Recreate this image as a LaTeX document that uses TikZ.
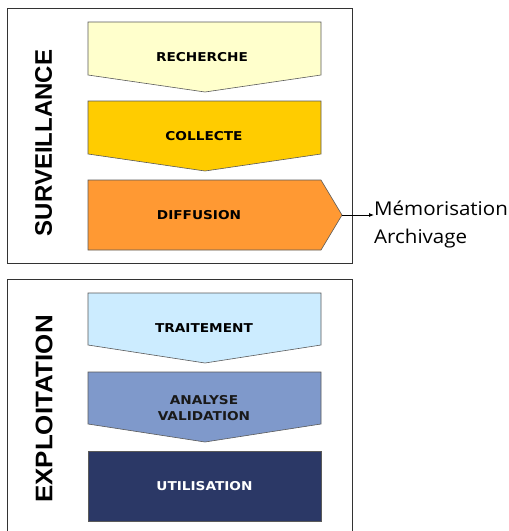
\documentclass[tikz,border=0pt]{standalone}
\usepackage{fontspec}
\usetikzlibrary{arrows.meta}
\newfontfamily\stepfont[FakeStretch=1.12]{DejaVu Sans Bold}
\newfontfamily\sidefont{Liberation Sans Bold}
\newfontfamily\sidewidefont[FakeStretch=1.08]{Liberation Sans Bold}
\newfontfamily\notefont[FakeStretch=1.08]{Open Sans}

\definecolor{cRecherche}{HTML}{FFFFCC}
\definecolor{cCollecte}{HTML}{FFCC00}
\definecolor{cDiffusion}{HTML}{FF9933}
\definecolor{cTraitement}{HTML}{CCECFF}
\definecolor{cAnalyse}{HTML}{7F99CB}
\definecolor{cUtilisation}{HTML}{2B3866}
\definecolor{cEdge}{HTML}{5A5A5A}
\definecolor{cFrame}{HTML}{333333}

\tikzset{
  frame/.style={draw=cFrame, line width=0.9pt},
  stepshape/.style={draw=cEdge, line width=0.6pt},
  steplabel/.style={font=\stepfont\fontsize{12.2}{16.7}\selectfont, align=center, inner sep=0pt},
  sidelabel/.style={font=\sidefont\fontsize{24}{24}\selectfont, rotate=90, inner sep=0pt},
  notelabel/.style={font=\notefont\fontsize{19}{19}\selectfont, inner sep=0pt, anchor=base west},
}

\begin{document}
\begin{tikzpicture}[x=1pt, y=-1pt]
  \clip (0,0) rectangle (509,531);
  \fill[white] (0,0) rectangle (509,531);

  % group frames
  \draw[frame] (7,8) rectangle (352,263);
  \draw[frame] (7,279) rectangle (352,560);

  % vertical group titles
  \node[sidelabel] (surv) at (43.5,143) {SURVEILLANCE};
  \node[sidelabel, font=\sidewidefont\fontsize{24}{24}\selectfont] (expl) at (44,409) {EXPLOITATION};

  % surveillance steps
  \draw[stepshape, fill=cRecherche] (88,22) -- (321,22) -- (321,75) -- (205,92) -- (88,75) -- cycle;
  \draw[stepshape, fill=cCollecte] (88,101) -- (321,101) -- (321,154) -- (205,171) -- (88,154) -- cycle;
  \draw[stepshape, fill=cDiffusion] (88,180) -- (321,180) -- (342,215) -- (321,250) -- (88,250) -- cycle;
  \coordinate (dtip) at (342,215);

  \node[steplabel] (recherche) at (202,57) {RECHERCHE};
  \node[steplabel] (collecte) at (204,136.5) {COLLECTE};
  \node[steplabel] (diffusion) at (199,215) {DIFFUSION};

  % exploitation steps
  \draw[stepshape, fill=cTraitement] (88,293) -- (321,293) -- (321,345) -- (205,363) -- (88,345) -- cycle;
  \draw[stepshape, fill=cAnalyse] (88,372) -- (321,372) -- (321,424) -- (205,442) -- (88,424) -- cycle;
  \draw[stepshape, fill=cUtilisation] (88,451) -- (321,451) -- (321,521) -- (88,521) -- cycle;

  \node[steplabel] (traitement) at (204,328) {TRAITEMENT};
  \node[steplabel, text=black!90] (analyse) at (204,408) {ANALYSE\\VALIDATION};
  \node[steplabel, text=white] (utilisation) at (204.5,486) {UTILISATION};

  % output of the diffusion step
  \node[notelabel] (mem) at (374,215.5) {Mémorisation};
  \node[notelabel] (arch) at (374,243) {Archivage};
  \draw[line width=0.8pt, -{Latex[length=5pt,width=4pt]}] (dtip) -- (mem.west |- dtip);
\end{tikzpicture}
\end{document}
